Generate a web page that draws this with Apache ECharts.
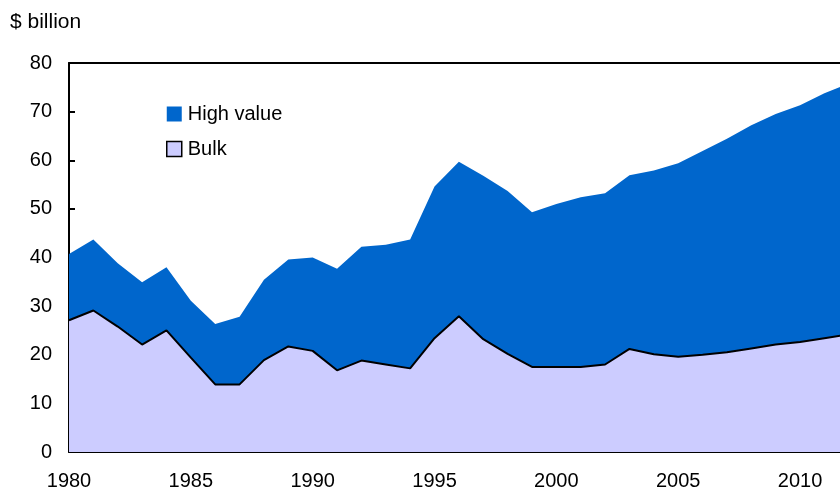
<!DOCTYPE html>
<html>
<head>
<meta charset="utf-8">
<script src="https://cdn.jsdelivr.net/npm/echarts@6/dist/echarts.min.js"></script>
<style>
html,body{margin:0;padding:0;background:#fff;}
#c{width:840px;height:491px;}
</style>
</head>
<body>
<div id="c"></div>
<script>
var years = [1980,1981,1982,1983,1984,1985,1986,1987,1988,1989,1990,1991,1992,1993,1994,1995,1996,1997,1998,1999,2000,2001,2002,2003,2004,2005,2006,2007,2008,2009,2010,2011,2012];
var bulk = [27.1,29.1,25.8,22.1,25.0,19.4,13.9,13.9,18.9,21.7,20.8,16.8,18.8,18.0,17.2,23.4,27.9,23.2,20.2,17.5,17.5,17.5,18.0,21.2,20.1,19.6,20.0,20.5,21.3,22.1,22.6,23.4,24.2];
var total = [40.7,43.7,38.8,34.9,38.0,31.1,26.3,27.8,35.4,39.6,40.0,37.7,42.2,42.6,43.7,54.6,59.7,56.8,53.7,49.3,51.0,52.4,53.2,56.9,57.9,59.4,61.9,64.4,67.2,69.5,71.3,73.8,75.8];
var yTicks = [0,10,20,30,40,50,60,70,80];
var xTicks = [1980,1985,1990,1995,2000,2005,2010];

var font = 'Liberation Sans, Arial, sans-serif';
var chart = echarts.init(document.getElementById('c'));
chart.setOption({
  animation: false,
  backgroundColor: '#fff',
  grid: { left: 69, top: 63, bottom: 39, right: 0, show: false },
  title: { text: '$ billion', left: 10, top: 12, padding: 0, textStyle: { fontFamily: font, fontSize: 21, fontWeight: 'normal', color: '#000' } },
  legend: {
    orient: 'vertical', left: 166, top: 104, padding: 0, itemWidth: 15, itemHeight: 15, itemGap: 15,
    textStyle: { fontFamily: font, fontSize: 20, color: '#000', padding: [0,0,0,1] },
    data: [
      { name: 'High value', icon: 'rect', itemStyle: { color: '#0066CC', borderWidth: 0 } },
      { name: 'Bulk', icon: 'rect', itemStyle: { color: '#CCCCFF', borderColor: '#000', borderWidth: 1.5 } }
    ]
  },
  xAxis: [{
    type: 'value', min: 1980, max: 2011.64, interval: 5,
    axisLine: { show: true, lineStyle: { color: '#000', width: 2 } },
    axisTick: { show: true, inside: true, length: 6, lineStyle: { color: '#000', width: 2 }, customValues: xTicks },
    axisLabel: { margin: 19, fontFamily: font, fontSize: 20, color: '#000', formatter: function(v){ return String(v); },
      customValues: xTicks },
    splitLine: { show: false }
  }, {
    type: 'value', position: 'top', min: 1980, max: 2011.64,
    axisLine: { show: true, onZero: false, lineStyle: { color: '#000', width: 2 } },
    axisTick: { show: false }, axisLabel: { show: false }, splitLine: { show: false }
  }],
  yAxis: {
    type: 'value', min: 0, max: 80, interval: 10,
    axisLine: { show: true, lineStyle: { color: '#000', width: 2 } },
    axisTick: { show: true, inside: true, length: 6, lineStyle: { color: '#000', width: 2 } },
    axisLabel: { margin: 17, fontFamily: font, fontSize: 20, color: '#000' },
    splitLine: { show: false }
  },
  series: [
    {
      name: 'High value', type: 'line', symbol: 'none', z: 2, clip: true,
      data: years.map(function(y,i){ return [y, total[i]]; }),
      lineStyle: { width: 0, color: '#0066CC' },
      itemStyle: { color: '#0066CC' },
      areaStyle: { color: '#0066CC', opacity: 1 }
    },
    {
      name: 'Bulk', type: 'line', symbol: 'none', z: 3, clip: true,
      data: years.map(function(y,i){ return [y, bulk[i]]; }),
      lineStyle: { color: '#000', width: 2 },
      itemStyle: { color: '#CCCCFF', borderColor: '#000' },
      areaStyle: { color: '#CCCCFF', opacity: 1 }
    }
  ]
});
</script>
</body>
</html>
